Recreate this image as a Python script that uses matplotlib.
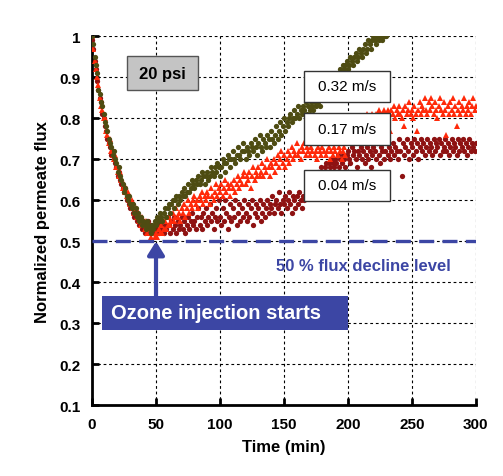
import numpy as np
import matplotlib
matplotlib.use('Agg')
import matplotlib.pyplot as plt
from matplotlib.patches import Rectangle

plt.rcParams['font.family'] = ['Liberation Sans', 'DejaVu Sans']

# logged every minute
time_032 = np.arange(0, 231)
time_017 = np.arange(0, 301)
time_004 = np.arange(0, 301)

# normalized flux, one row = 10 min
flux_032 = [
    1.00, 0.98, 0.95, 0.93, 0.91, 0.87, 0.86, 0.84, 0.83, 0.81,
    0.79, 0.78, 0.77, 0.75, 0.74, 0.73, 0.71, 0.72, 0.70, 0.69,
    0.67, 0.68, 0.66, 0.65, 0.64, 0.62, 0.63, 0.61, 0.60, 0.61,
    0.59, 0.58, 0.59, 0.57, 0.58, 0.56, 0.57, 0.55, 0.56, 0.54,
    0.55, 0.54, 0.53, 0.55, 0.54, 0.53, 0.52, 0.54, 0.53, 0.55,
    0.54, 0.56, 0.55, 0.57, 0.56, 0.55, 0.57, 0.58, 0.56, 0.58,
    0.59, 0.57, 0.59, 0.60, 0.58, 0.60, 0.61, 0.59, 0.61, 0.60,
    0.62, 0.61, 0.63, 0.61, 0.62, 0.64, 0.62, 0.63, 0.65, 0.64,
    0.63, 0.65, 0.64, 0.66, 0.64, 0.65, 0.67, 0.66, 0.64, 0.66,
    0.67, 0.65, 0.66, 0.68, 0.67, 0.66, 0.68, 0.67, 0.69, 0.68,
    0.66, 0.68, 0.70, 0.69, 0.67, 0.69, 0.71, 0.70, 0.68, 0.70,
    0.72, 0.70, 0.69, 0.71, 0.73, 0.71, 0.70, 0.72, 0.74, 0.72,
    0.70, 0.73, 0.72, 0.71, 0.74, 0.73, 0.72, 0.75, 0.73, 0.71,
    0.74, 0.76, 0.73, 0.72, 0.75, 0.74, 0.73, 0.76, 0.75, 0.73,
    0.77, 0.75, 0.74, 0.76, 0.78, 0.75, 0.77, 0.79, 0.76, 0.78,
    0.80, 0.77, 0.79, 0.78, 0.80, 0.81, 0.79, 0.80, 0.82, 0.80,
    0.81, 0.83, 0.80, 0.82, 0.81, 0.83, 0.82, 0.84, 0.81, 0.83,
    0.82, 0.84, 0.83, 0.82, 0.84, 0.83, 0.85, 0.84, 0.83, 0.85,
    0.86, 0.85, 0.87, 0.86, 0.88, 0.87, 0.86, 0.88, 0.89, 0.88,
    0.90, 0.89, 0.91, 0.90, 0.92, 0.91, 0.93, 0.92, 0.93, 0.94,
    0.92, 0.93, 0.95, 0.94, 0.93, 0.95, 0.96, 0.94, 0.95, 0.97,
    0.96, 0.95, 0.97, 0.98, 0.96, 0.97, 0.99, 0.98, 0.97, 0.99,
    1.00, 0.99, 0.98, 1.00, 0.99, 1.00, 1.00, 0.99, 1.00, 1.00,
    1.00]

flux_017 = [
    1.00, 0.97, 0.94, 0.92, 0.90, 0.88, 0.85, 0.83, 0.82, 0.80,
    0.80, 0.77, 0.76, 0.74, 0.75, 0.72, 0.71, 0.70, 0.71, 0.68,
    0.67, 0.66, 0.67, 0.65, 0.63, 0.64, 0.62, 0.61, 0.62, 0.60,
    0.59, 0.60, 0.58, 0.57, 0.58, 0.56, 0.57, 0.55, 0.54, 0.56,
    0.54, 0.53, 0.55, 0.52, 0.54, 0.53, 0.51, 0.52, 0.53, 0.51,
    0.52, 0.51, 0.53, 0.52, 0.54, 0.52, 0.53, 0.55, 0.53, 0.54,
    0.56, 0.54, 0.55, 0.57, 0.55, 0.56, 0.58, 0.56, 0.57, 0.55,
    0.58, 0.57, 0.59, 0.56, 0.58, 0.60, 0.57, 0.59, 0.58, 0.60,
    0.61, 0.59, 0.60, 0.58, 0.61, 0.60, 0.62, 0.59, 0.61, 0.60,
    0.62, 0.61, 0.59, 0.63, 0.61, 0.60, 0.62, 0.64, 0.61, 0.63,
    0.62, 0.64, 0.61, 0.63, 0.65, 0.62, 0.64, 0.63, 0.61, 0.64,
    0.63, 0.65, 0.62, 0.64, 0.66, 0.63, 0.65, 0.64, 0.66, 0.67,
    0.64, 0.66, 0.65, 0.67, 0.63, 0.66, 0.68, 0.65, 0.67, 0.66,
    0.68, 0.66, 0.67, 0.69, 0.66, 0.68, 0.67, 0.70, 0.68, 0.66,
    0.69, 0.68, 0.70, 0.67, 0.69, 0.71, 0.68, 0.70, 0.72, 0.69,
    0.71, 0.68, 0.70, 0.72, 0.69, 0.71, 0.73, 0.70, 0.72, 0.71,
    0.74, 0.71, 0.72, 0.70, 0.73, 0.72, 0.74, 0.71, 0.73, 0.72,
    0.71, 0.73, 0.72, 0.74, 0.71, 0.72, 0.70, 0.73, 0.72, 0.71,
    0.73, 0.72, 0.74, 0.71, 0.72, 0.73, 0.70, 0.72, 0.71, 0.73,
    0.72, 0.74, 0.71, 0.73, 0.72, 0.70, 0.72, 0.73, 0.71, 0.74,
    0.75, 0.77, 0.76, 0.78, 0.76, 0.77, 0.79, 0.77, 0.78, 0.80,
    0.78, 0.79, 0.77, 0.80, 0.79, 0.81, 0.78, 0.80, 0.79, 0.81,
    0.80, 0.79, 0.81, 0.80, 0.82, 0.79, 0.81, 0.80, 0.82, 0.81,
    0.80, 0.82, 0.81, 0.77, 0.82, 0.81, 0.83, 0.80, 0.82, 0.81,
    0.83, 0.81, 0.80, 0.82, 0.78, 0.83, 0.81, 0.82, 0.84, 0.81,
    0.82, 0.80, 0.83, 0.81, 0.77, 0.82, 0.84, 0.81, 0.83, 0.82,
    0.85, 0.82, 0.81, 0.84, 0.82, 0.85, 0.83, 0.81, 0.84, 0.82,
    0.80, 0.83, 0.85, 0.82, 0.81, 0.84, 0.82, 0.76, 0.83, 0.81,
    0.84, 0.82, 0.85, 0.81, 0.83, 0.78, 0.82, 0.84, 0.81, 0.83,
    0.82, 0.85, 0.81, 0.83, 0.82, 0.84, 0.81, 0.83, 0.85, 0.82,
    0.83]

flux_004 = [
    0.99, 0.97, 0.94, 0.92, 0.89, 0.87, 0.85, 0.84, 0.81, 0.80,
    0.78, 0.77, 0.75, 0.74, 0.73, 0.71, 0.72, 0.70, 0.69, 0.68,
    0.66, 0.67, 0.65, 0.64, 0.63, 0.62, 0.63, 0.60, 0.61, 0.59,
    0.58, 0.59, 0.57, 0.56, 0.57, 0.55, 0.56, 0.54, 0.55, 0.53,
    0.54, 0.52, 0.54, 0.53, 0.55, 0.52, 0.54, 0.53, 0.52, 0.54,
    0.53, 0.55, 0.52, 0.54, 0.53, 0.55, 0.52, 0.54, 0.53, 0.56,
    0.54, 0.52, 0.55, 0.53, 0.56, 0.54, 0.52, 0.55, 0.53, 0.54,
    0.56, 0.53, 0.55, 0.52, 0.54, 0.56, 0.53, 0.55, 0.57, 0.54,
    0.55, 0.53, 0.56, 0.58, 0.54, 0.56, 0.53, 0.57, 0.55, 0.58,
    0.54, 0.56, 0.59, 0.55, 0.57, 0.53, 0.56, 0.58, 0.55, 0.60,
    0.56, 0.54, 0.58, 0.55, 0.60, 0.57, 0.53, 0.56, 0.59, 0.55,
    0.58, 0.56, 0.60, 0.54, 0.57, 0.59, 0.55, 0.58, 0.56, 0.60,
    0.57, 0.55, 0.59, 0.56, 0.58, 0.60, 0.54, 0.57, 0.59, 0.56,
    0.58, 0.60, 0.55, 0.57, 0.59, 0.56, 0.58, 0.60, 0.57, 0.59,
    0.58, 0.61, 0.57, 0.59, 0.60, 0.58, 0.62, 0.59, 0.57, 0.60,
    0.59, 0.61, 0.58, 0.60, 0.62, 0.59, 0.57, 0.61, 0.60, 0.58,
    0.61, 0.59, 0.62, 0.60, 0.58, 0.61, 0.60, 0.62, 0.61, 0.63,
    0.62, 0.64, 0.63, 0.65, 0.64, 0.66, 0.65, 0.67, 0.66, 0.68,
    0.67, 0.66, 0.68, 0.69, 0.67, 0.69, 0.68, 0.70, 0.69, 0.68,
    0.70, 0.69, 0.71, 0.68, 0.70, 0.69, 0.71, 0.70, 0.68, 0.71,
    0.72, 0.70, 0.69, 0.73, 0.71, 0.72, 0.70, 0.68, 0.72, 0.71,
    0.73, 0.70, 0.72, 0.69, 0.71, 0.73, 0.70, 0.72, 0.68, 0.71,
    0.73, 0.72, 0.70, 0.74, 0.71, 0.69, 0.73, 0.72, 0.70, 0.72,
    0.74, 0.71, 0.73, 0.70, 0.72, 0.74, 0.71, 0.73, 0.72, 0.70,
    0.75, 0.72, 0.66, 0.74, 0.71, 0.73, 0.75, 0.72, 0.70, 0.74,
    0.73, 0.71, 0.75, 0.72, 0.74, 0.70, 0.73, 0.75, 0.72, 0.74,
    0.71, 0.73, 0.75, 0.72, 0.74, 0.73, 0.71, 0.75, 0.72, 0.74,
    0.73, 0.75, 0.71, 0.74, 0.72, 0.73, 0.75, 0.72, 0.74, 0.71,
    0.73, 0.75, 0.72, 0.74, 0.73, 0.71, 0.75, 0.72, 0.74, 0.73,
    0.75, 0.72, 0.74, 0.71, 0.73, 0.75, 0.72, 0.74, 0.73, 0.72,
    0.74]

xticks = [0, 50, 100, 150, 200, 250, 300]
yticks = [0.1, 0.2, 0.3, 0.4, 0.5, 0.6, 0.7, 0.8, 0.9, 1.0]
ytick_labels = ['0.1', '0.2', '0.3', '0.4', '0.5', '0.6', '0.7', '0.8', '0.9', '1']

decline_level = 0.5
ozone_start = 50

blue = '#3c46a4'

fig = plt.figure(figsize=(5.03, 4.77), dpi=100)
ax = fig.add_axes([0.183, 0.148, 0.763, 0.774])

ax.plot(time_004, flux_004, 'o', color='#8e1212', ms=3.8, mew=0, zorder=3)
ax.plot(time_017, flux_017, '^', color='#ff2a0a', ms=4.4, mew=0, zorder=4)
ax.plot(time_032, flux_032, 'o', color='#4e4c12', ms=3.8, mew=0, zorder=5)

ax.axhline(decline_level, color=blue, lw=2.4, dashes=(4.5, 2.5), zorder=6)

ax.set_xlim(0, 300)
ax.set_ylim(0.1, 1.0)
ax.set_xticks(xticks)
ax.set_yticks(yticks)
ax.set_yticklabels(ytick_labels)
ax.grid(True, color='black', ls=(0, (2.5, 2.5)), lw=0.8)
ax.set_axisbelow(True)
for s in ['top', 'right']:
    ax.spines[s].set_visible(False)
for s in ['left', 'bottom']:
    ax.spines[s].set_linewidth(2)
ax.tick_params(direction='in', length=5, width=2, labelsize=11, pad=8)
for lab in ax.get_xticklabels() + ax.get_yticklabels():
    lab.set_fontweight('bold')
ax.set_xlabel('Time (min)', fontsize=12, fontweight='bold', labelpad=6)
ax.set_ylabel('Normalized permeate flux', fontsize=12, fontweight='bold', labelpad=7)

# pressure label
ax.add_patch(Rectangle((27, 0.868), 56, 0.083, facecolor='#c4c4c4',
                       edgecolor='#555555', lw=1, zorder=7))
ax.text(55, 0.91, '20 psi', ha='center', va='center', fontsize=12,
        fontweight='bold', zorder=8)

# velocity labels
for label, ybot in [('0.32 m/s', 0.839), ('0.17 m/s', 0.735), ('0.04 m/s', 0.598)]:
    ax.add_patch(Rectangle((166, ybot), 67, 0.077, facecolor='white',
                           edgecolor='#333333', lw=1, zorder=7))
    ax.text(199.5, ybot + 0.0385, label, ha='center', va='center',
            fontsize=11, zorder=8)

ax.text(212, 0.442, '50 % flux decline level', ha='center', va='center',
        fontsize=12, fontweight='bold', color=blue, zorder=8)

# ozone arrow and box
ax.annotate('', xy=(ozone_start, 0.5), xytext=(ozone_start, 0.367),
            arrowprops=dict(arrowstyle='-|>,head_width=0.5,head_length=0.8',
                            color=blue, lw=3, shrinkA=0, shrinkB=0), zorder=8)
ax.add_patch(Rectangle((7.8, 0.284), 192, 0.083, facecolor=blue,
                       edgecolor=blue, lw=0, zorder=7))
ax.text(15, 0.3255, 'Ozone injection starts', ha='left', va='center',
        fontsize=14.5, fontweight='bold', color='white', zorder=8)

fig.savefig('out.png', dpi=100)
